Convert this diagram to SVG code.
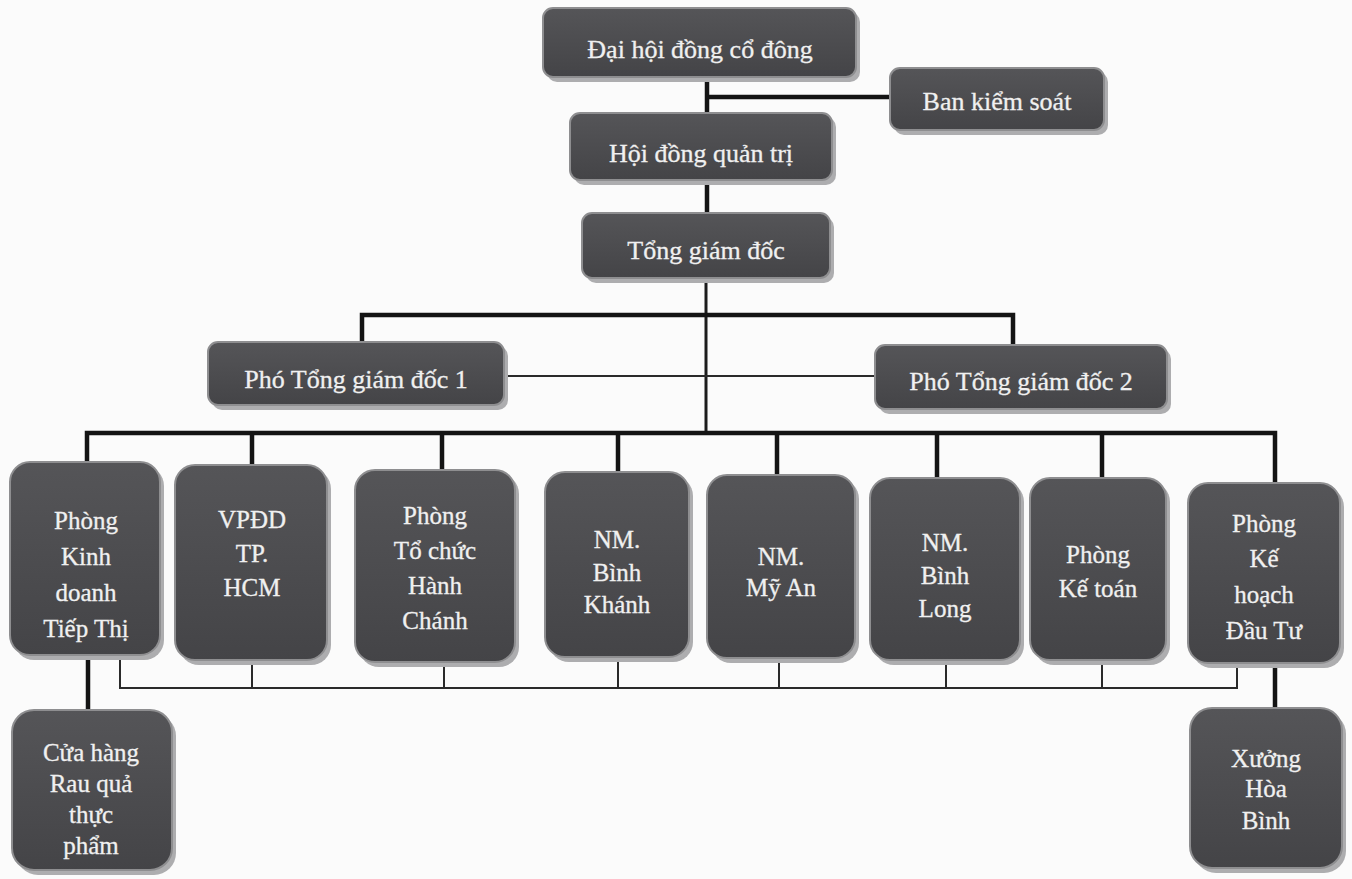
<svg xmlns="http://www.w3.org/2000/svg" width="1352" height="879" viewBox="0 0 1352 879">
<defs>
<linearGradient id="g" x1="0" y1="0" x2="0" y2="1">
<stop offset="0" stop-color="#555558"/>
<stop offset="1" stop-color="#444447"/>
</linearGradient>
<style>
.sh{fill:#adadaf}
.bx{fill:url(#g);stroke:#8e8e90;stroke-width:2}
.t{font-family:"Liberation Serif","Times New Roman",serif;font-size:26px;fill:#f0f0f0;text-anchor:middle;stroke:#f0f0f0;stroke-width:0.3}
.b{font-size:25px}
.thick{stroke:#141414;stroke-width:4.5;fill:none}
.mid{stroke:#1c1c1c;stroke-width:3;fill:none}
.thin{stroke:#2a2a2a;stroke-width:2;fill:none}
</style>
</defs>
<rect width="1352" height="879" fill="#fbfbfb"/>
<g id="connectors">
<path class="thick" d="M707 80V115M707 97H890M707 182V215"/>
<path class="mid" d="M706 278V433"/>
<path class="thick" d="M362 343V315H1013V345"/>
<path class="thin" d="M505 376H876"/>
<path class="thick" d="M87 464V433H1275V485M252 433V467M442 433V472M618 433V474M777 433V477M937 433V480M1102 433V480"/>
<path class="thin" d="M120 657V688H1237V664M252 662V688M444 664V688M618 659V688M779 660V688M946 662V688M1102 662V688"/>
<path class="thick" d="M88 657V712M1275 665V710"/>
</g>
<g id="n-dhdcd"><rect class="sh" x="547" y="12" width="313" height="70" rx="10"/><rect class="bx" x="543" y="8" width="313" height="69" rx="10"/><text class="t" x="700" y="58">Đại hội đồng cổ đông</text></g>
<g id="n-bks"><rect class="sh" x="894" y="72" width="214" height="63" rx="10"/><rect class="bx" x="890" y="68" width="214" height="62" rx="10"/><text class="t" x="997" y="110">Ban kiểm soát</text></g>
<g id="n-hdqt"><rect class="sh" x="574" y="117" width="262" height="68" rx="10"/><rect class="bx" x="570" y="113" width="262" height="67" rx="10"/><text class="t" x="701" y="162">Hội đồng quản trị</text></g>
<g id="n-tgd"><rect class="sh" x="586" y="217" width="248" height="66" rx="10"/><rect class="bx" x="582" y="213" width="248" height="65" rx="10"/><text class="t" x="706" y="259">Tổng giám đốc</text></g>
<g id="n-ptgd1"><rect class="sh" x="212" y="346" width="296" height="64" rx="10"/><rect class="bx" x="208" y="342" width="296" height="63" rx="10"/><text class="t" x="356" y="388">Phó Tổng giám đốc 1</text></g>
<g id="n-ptgd2"><rect class="sh" x="879" y="349" width="292" height="65" rx="10"/><rect class="bx" x="875" y="345" width="292" height="64" rx="10"/><text class="t" x="1021" y="390">Phó Tổng giám đốc 2</text></g>
<g id="n-kd"><rect class="sh" x="14" y="466" width="150" height="194" rx="20"/><rect class="bx" x="10" y="462" width="150" height="193" rx="20"/><text class="t b" x="86"><tspan x="86" y="529">Phòng</tspan><tspan x="86" y="565">Kinh</tspan><tspan x="86" y="601">doanh</tspan><tspan x="86" y="637">Tiếp Thị</tspan></text></g>
<g id="n-vpdd"><rect class="sh" x="179" y="469" width="152" height="196" rx="20"/><rect class="bx" x="175" y="465" width="152" height="195" rx="20"/><text class="t b" x="252"><tspan x="252" y="528">VPĐD</tspan><tspan x="252" y="562">TP.</tspan><tspan x="252" y="596">HCM</tspan></text></g>
<g id="n-tc"><rect class="sh" x="359" y="474" width="160" height="193" rx="20"/><rect class="bx" x="355" y="470" width="160" height="192" rx="20"/><text class="t b" x="435"><tspan x="435" y="524">Phòng</tspan><tspan x="435" y="559">Tổ chức</tspan><tspan x="435" y="594">Hành</tspan><tspan x="435" y="629">Chánh</tspan></text></g>
<g id="n-bk"><rect class="sh" x="549" y="476" width="144" height="186" rx="20"/><rect class="bx" x="545" y="472" width="144" height="185" rx="20"/><text class="t b" x="617"><tspan x="617" y="548">NM.</tspan><tspan x="617" y="581">Bình</tspan><tspan x="617" y="613">Khánh</tspan></text></g>
<g id="n-ma"><rect class="sh" x="711" y="479" width="148" height="184" rx="20"/><rect class="bx" x="707" y="475" width="148" height="183" rx="20"/><text class="t b" x="781"><tspan x="781" y="565">NM.</tspan><tspan x="781" y="596">Mỹ An</tspan></text></g>
<g id="n-bl"><rect class="sh" x="874" y="482" width="150" height="183" rx="20"/><rect class="bx" x="870" y="478" width="150" height="182" rx="20"/><text class="t b" x="945"><tspan x="945" y="551">NM.</tspan><tspan x="945" y="584">Bình</tspan><tspan x="945" y="617">Long</tspan></text></g>
<g id="n-kt"><rect class="sh" x="1034" y="482" width="136" height="183" rx="20"/><rect class="bx" x="1030" y="478" width="136" height="182" rx="20"/><text class="t b" x="1098"><tspan x="1098" y="563">Phòng</tspan><tspan x="1098" y="597">Kế toán</tspan></text></g>
<g id="n-khdt"><rect class="sh" x="1192" y="487" width="152" height="181" rx="20"/><rect class="bx" x="1188" y="483" width="152" height="180" rx="20"/><text class="t b" x="1264"><tspan x="1264" y="532">Phòng</tspan><tspan x="1264" y="567">Kế</tspan><tspan x="1264" y="603">hoạch</tspan><tspan x="1264" y="639">Đầu Tư</tspan></text></g>
<g id="n-ch"><rect class="sh" x="16" y="714" width="160" height="161" rx="22"/><rect class="bx" x="12" y="710" width="160" height="160" rx="22"/><text class="t b" x="91"><tspan x="91" y="761">Cửa hàng</tspan><tspan x="91" y="792">Rau quả</tspan><tspan x="91" y="823">thực</tspan><tspan x="91" y="854">phẩm</tspan></text></g>
<g id="n-xhb"><rect class="sh" x="1194" y="712" width="152" height="161" rx="22"/><rect class="bx" x="1190" y="708" width="152" height="160" rx="22"/><text class="t b" x="1266"><tspan x="1266" y="767">Xưởng</tspan><tspan x="1266" y="797">Hòa</tspan><tspan x="1266" y="829">Bình</tspan></text></g>
</svg>
